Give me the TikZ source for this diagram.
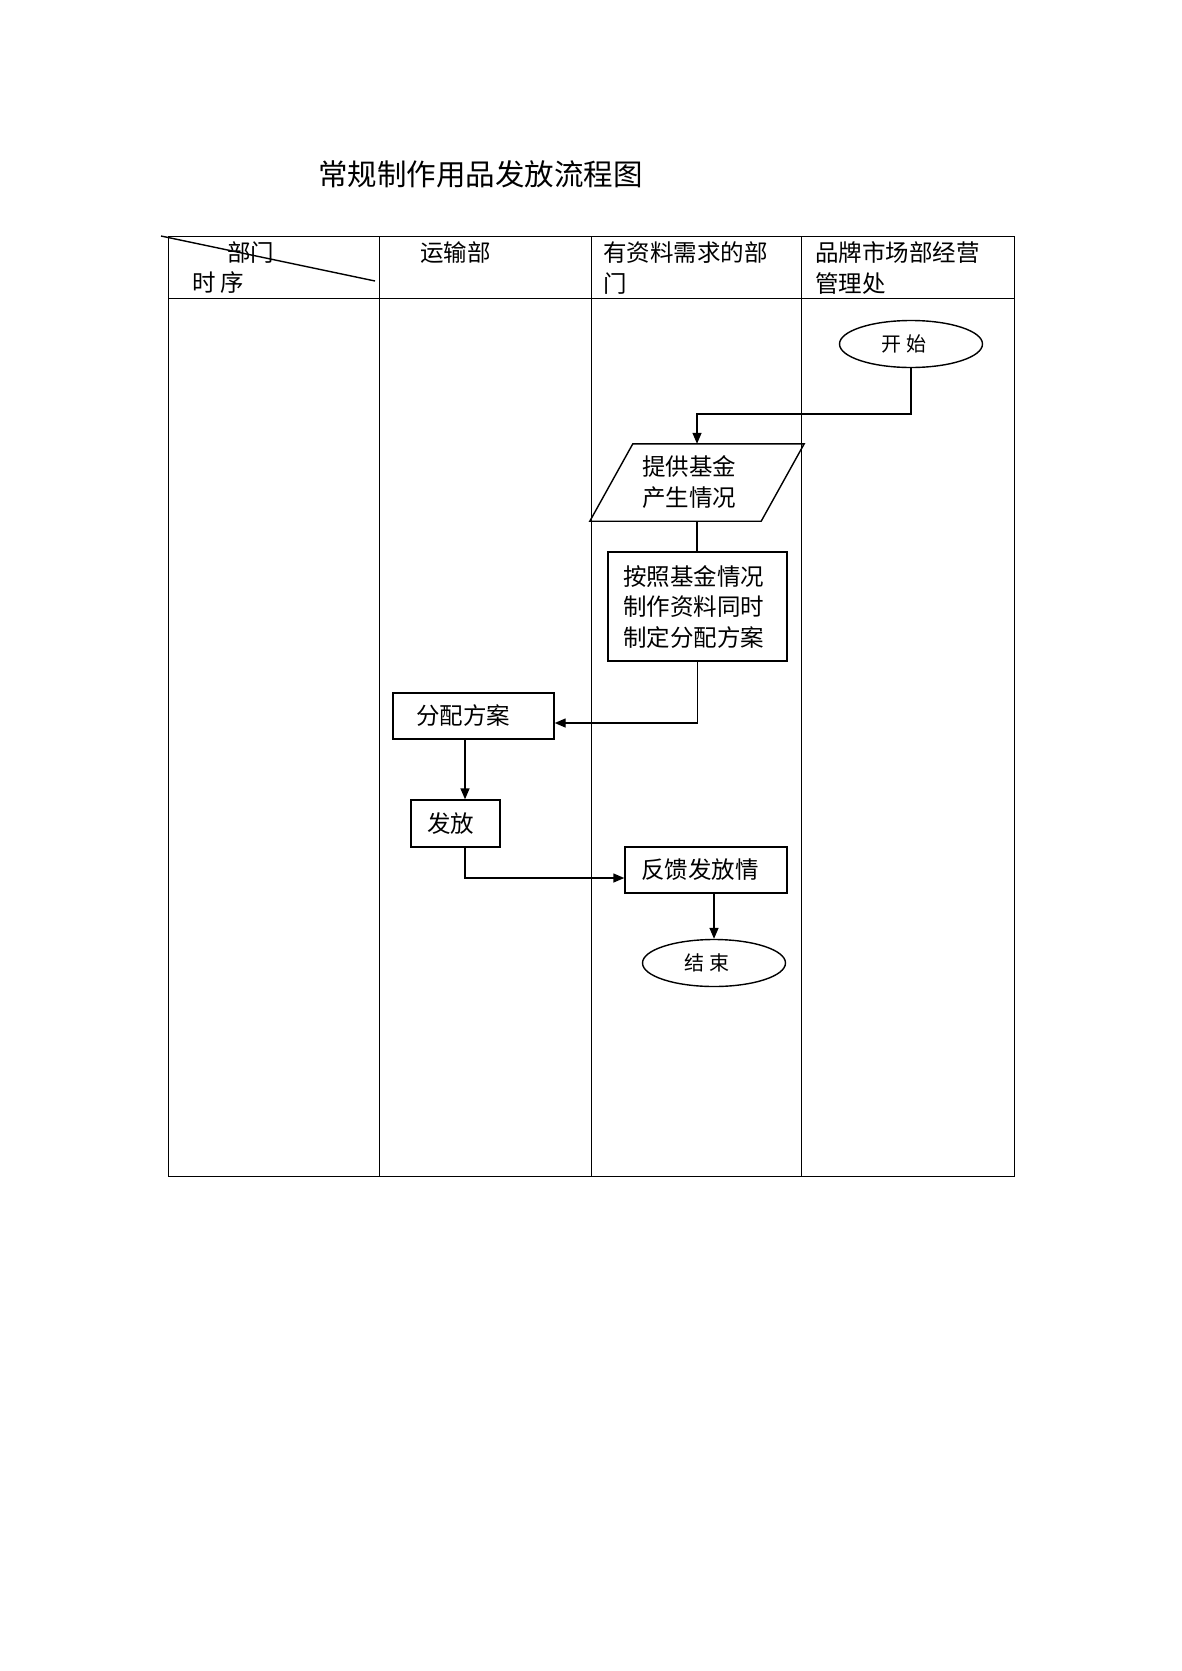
\documentclass[tikz,border=0pt]{standalone}
\usepackage{fontspec}
\setmainfont{Noto Sans CJK SC}
\usetikzlibrary{shapes.geometric,arrows.meta}
\tikzset{
  grid/.style={line width=1pt},
  hdr/.style={anchor=west,inner sep=0pt,align=left,font=\fontsize{23.5}{30.5}\selectfont},
  boxnode/.style={draw,line width=1.4pt,rectangle,align=left,inner ysep=0pt,font=\fontsize{23.5}{30.5}\selectfont},
  term/.style={draw,line width=1.4pt,ellipse,minimum width=143pt,minimum height=47pt,inner sep=0pt,font=\fontsize{20}{24}\selectfont},
  conn/.style={line width=1.4pt},
  arr/.style={line width=1.4pt,-{Triangle[length=11pt,width=9pt]}}
}
\begin{document}
\begin{tikzpicture}[x=1pt,y=-1pt]
\useasboundingbox[fill=white] (0,0) rectangle (1182,1671);
% title
\node[anchor=west,inner sep=0pt,font=\fontsize{29.5}{34}\selectfont] (title) at (318,174) {常规制作用品发放流程图};
% table
\draw[grid] (168,236) rectangle (1014,1176);
\draw[grid] (168,298) -- (1014,298);
\draw[grid] (379,236) -- (379,1176);
\draw[grid] (591,236) -- (591,1176);
\draw[grid] (801,236) -- (801,1176);
\draw[line width=1.4pt] (161,236) -- (375,281);
% headers
\node[hdr] (h0a) at (227,253) {部门};
\node[hdr] (h0b) at (192,283) {时 序};
\node[hdr] (h1) at (420,253) {运输部};
\node[hdr] (h2) at (603,268) {有资料需求的部\\门};
\node[hdr] (h3) at (815,268) {品牌市场部经营\\管理处};
% nodes
\node[term] (s) at (911,344) {开 始\kern14pt};
\node[align=left,inner sep=0pt,minimum width=171pt,minimum height=77pt,text width=110pt,font=\fontsize{23.5}{31}\selectfont] (p) at (697,482.5) {提供基金\\产生情况};
\draw[line width=1.4pt] ([xshift=21.5pt]p.north west) -- ([xshift=21.5pt]p.north east) -- ([xshift=-21.5pt]p.south east) -- ([xshift=-21.5pt]p.south west) -- cycle;
\node[boxnode,inner xsep=15pt,text width=149pt,minimum height=109pt] (r) at (697.5,606.5) {按照基金情况\\制作资料同时\\制定分配方案};
\node[boxnode,inner xsep=23pt,text width=115pt,minimum height=46pt] (a) at (473.5,716) {分配方案};
\node[boxnode,inner xsep=16pt,text width=57pt,minimum height=47pt] (f) at (455.5,823.5) {发放};
\node[boxnode,inner xsep=16pt,text width=130pt,minimum height=46pt] (k) at (706,870) {反馈发放情};
\node[term] (e) at (714,963) {结 束\kern14pt};
% connectors
\draw[arr] (s.south) |- (697,414) -- (p.north);
\draw[conn] (p.south) -- (p.south |- r.north);
\draw[arr] (r.south) |- ([yshift=-7pt]a.east);
\draw[arr] ([xshift=-8.5pt]a.south) -- ([xshift=-8.5pt]a.south |- f.north);
\draw[arr] ([xshift=9.5pt]f.south) |- ([yshift=-8pt]k.west);
\draw[arr] ([xshift=8pt]k.south) -- (e.north);
\end{tikzpicture}
\end{document}
